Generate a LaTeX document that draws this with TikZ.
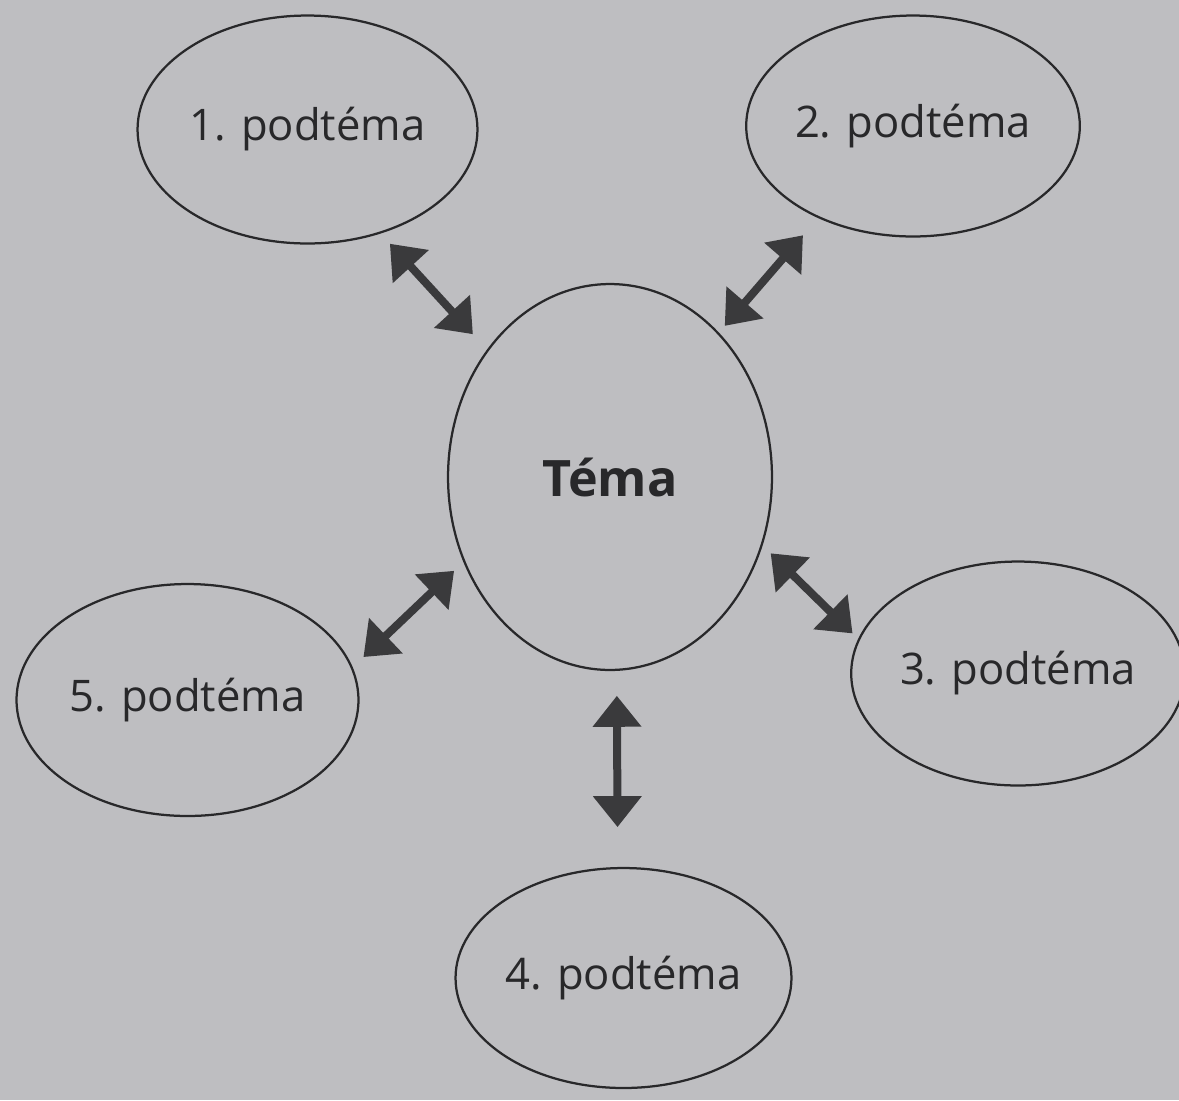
\documentclass[tikz,border=0pt]{standalone}
\usepackage{fontspec}
\setmainfont{Open Sans}
\usetikzlibrary{shapes.geometric,arrows.meta}
\definecolor{bg}{RGB}{190,190,193}
\definecolor{ink}{RGB}{40,40,42}
\definecolor{arr}{RGB}{58,58,60}
\tikzset{
  sub/.style={ellipse,draw=ink,line width=0.045cm,inner sep=0pt,outer sep=0pt,text=ink,font=\fontsize{24.8}{28}\selectfont},
  link/.style={draw=arr,line width=0.16cm,{Triangle[width=0.94cm,length=0.62cm]}-{Triangle[width=0.94cm,length=0.62cm]}}
}
\begin{document}
\begin{tikzpicture}[x=0.02cm,y=-0.02cm]
\fill[bg] (0,0) rectangle (1179,1100);
\useasboundingbox (0,0) rectangle (1179,1100);
\node[sub,minimum width=6.8cm,minimum height=4.56cm] (t1) at (307.5,129.5) {1. podtéma};
\node[sub,minimum width=6.44cm,minimum height=4.42cm] (t2) at (913,126) {2. podtéma};
\node[sub,minimum width=6.48cm,minimum height=7.72cm,font=\fontsize{28.6}{32}\selectfont\bfseries] (tema) at (610,477) {Téma};
\node[sub,minimum width=6.36cm,minimum height=4.48cm] (t3) at (1018,673.5) {3. podtéma};
\node[sub,minimum width=6.84cm,minimum height=4.64cm] (t5) at (187.5,700) {5. podtéma};
\node[sub,minimum width=6.72cm,minimum height=4.4cm] (t4) at (623.5,978) {4. podtéma};
\draw[link,shorten <=0.3cm,shorten >=0.44cm] (t1.-55) -- (tema.134);
\draw[link,shorten <=0.48cm,shorten >=0.2cm] (t2.224) -- (tema.53);
\draw[link,shorten <=0.25cm,shorten >=0.18cm] (tema.-24) -- (t3.168);
\draw[link,shorten <=0.32cm,shorten >=0.28cm] (t5.11.6) -- (tema.210);
\draw[link,shorten <=0.52cm,shorten >=0.82cm] (tema.-88) -- (t4.93);
\end{tikzpicture}
\end{document}
